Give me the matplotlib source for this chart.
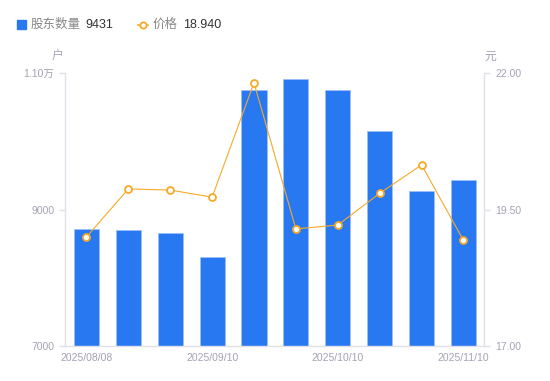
import matplotlib
matplotlib.use("Agg")
import matplotlib.pyplot as plt
from matplotlib.lines import Line2D
from matplotlib.patches import Rectangle

plt.rcParams['font.family'] = ['Liberation Sans', 'Noto Sans CJK SC', 'DejaVu Sans']

# data
dates = ['2025/08/08', '2025/08/20', '2025/08/29', '2025/09/10', '2025/09/19',
         '2025/09/30', '2025/10/10', '2025/10/20', '2025/10/31', '2025/11/10']
holders = [8714, 8697, 8656, 8308, 10751, 10912, 10746, 10150, 9271, 9431]
price = [19.00, 19.88, 19.86, 19.73, 21.82, 19.15, 19.22, 19.80, 20.32, 18.94]
label_idx = [0, 3, 6, 9]
left_ticks = [7000, 9000, 11000]
left_labels = ['7000', '9000', '1.10万']
right_ticks = [17.00, 19.50, 22.00]

BLUE = '#2878F2'
ORANGE = '#F7A928'
GREY = '#A3A3B3'
AXIS = '#E0E0E6'

fig = plt.figure(figsize=(5.5, 3.81), dpi=100)
ax = fig.add_axes([0.119, 0.0906, 0.7618, 0.7178])
ax2 = ax.twinx()

x = list(range(len(dates)))
ax.bar(x, holders, width=0.6, color=BLUE, edgecolor='#9CC0F7', linewidth=0.6, zorder=2)
ax.set_xlim(-0.5, len(dates) - 0.5)
ax.set_ylim(7000, 11000)
ax.set_yticks(left_ticks)
ax.set_yticklabels(left_labels)
ax.set_xticks(label_idx)
ax.set_xticklabels([dates[i] for i in label_idx])

ax2.plot(x, price, color=ORANGE, lw=0.8, marker='o', ms=5, mfc='white',
         mec=ORANGE, mew=1.3, zorder=3)
ax2.set_ylim(17, 22)
ax2.set_yticks(right_ticks)
ax2.set_yticklabels([f'{v:.2f}' for v in right_ticks])

for a in (ax, ax2):
    for s in a.spines.values():
        s.set_visible(False)
ax.spines['left'].set_visible(True)
ax.spines['bottom'].set_visible(True)
ax2.spines['right'].set_visible(True)
for s in (ax.spines['left'], ax.spines['bottom'], ax2.spines['right']):
    s.set_color(AXIS)
    s.set_linewidth(1)

ax.tick_params(axis='y', length=4, width=1, color=AXIS, labelcolor=GREY, labelsize=7.5, pad=4)
ax.tick_params(axis='x', length=0, labelcolor=GREY, labelsize=7.5, pad=5)
ax2.tick_params(axis='y', length=4, width=1, color=AXIS, labelcolor=GREY, labelsize=7.5, pad=4)

# unit labels
fig.text(58 / 550, 1 - 57 / 381, '户', color=GREY, fontsize=8.5, ha='center', va='center')
fig.text(490 / 550, 1 - 57 / 381, '元', color=GREY, fontsize=8.5, ha='center', va='center')

# legend
ly = 1 - 25 / 381
fig.patches.append(Rectangle((17 / 550, 1 - 29 / 381), 9 / 550, 9 / 381,
                             transform=fig.transFigure, color=BLUE, figure=fig))
fig.text(31 / 550, ly, '股东数量', color='#888888', fontsize=9, va='center')
fig.text(85 / 550, ly, f'{holders[-1]}', color='#333333', fontsize=9, va='center')
fig.lines.append(Line2D([138 / 550, 148 / 550], [ly, ly], transform=fig.transFigure,
                        color=ORANGE, lw=1.2, figure=fig))
fig.lines.append(Line2D([143 / 550], [ly], transform=fig.transFigure, lw=0,
                        marker='o', ms=4.5, mfc='white', mec=ORANGE, mew=1.3, figure=fig))
fig.text(153 / 550, ly, '价格', color='#888888', fontsize=9, va='center')
fig.text(183 / 550, ly, f'{price[-1]:.3f}', color='#333333', fontsize=9, va='center')

fig.savefig('out.png', dpi=100)
